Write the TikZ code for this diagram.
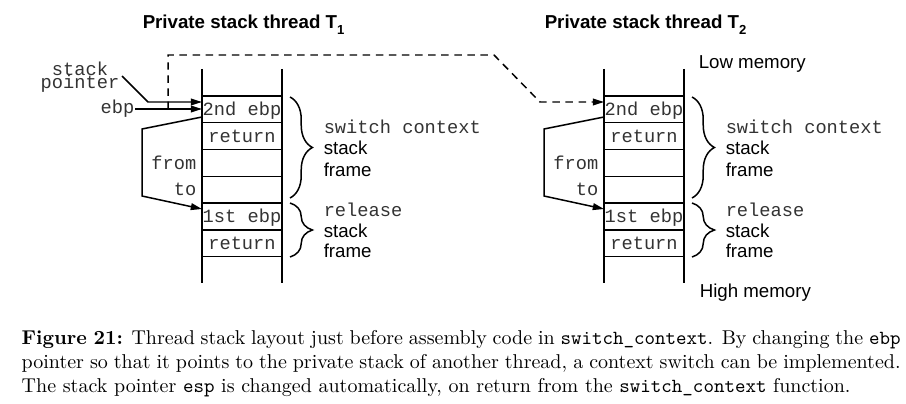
\documentclass[tikz,border=0pt]{standalone}
\usepackage{fontspec}
\newfontfamily\helv{Liberation Sans}
\newfontfamily\cour{Liberation Mono}
\usetikzlibrary{arrows.meta,decorations.pathreplacing}
\begin{document}
\begin{tikzpicture}[x=0.5348pt,y=-0.5348pt,line width=0.8pt,
  mono/.style={font=\cour\fontsize{10}{12}\selectfont,inner sep=0pt,text=black!80},
  sans/.style={font=\helv\fontsize{10}{12}\selectfont,inner sep=0pt},
  ttl/.style={font=\helv\bfseries\fontsize{10}{12}\selectfont,inner sep=0pt,anchor=base west},
  arr/.style={-{Triangle[length=6pt,width=3.6pt]}},
  brc/.style={decorate,decoration={brace,amplitude=12pt}},
  dsh/.style={dash pattern=on 4pt off 3pt}]
\useasboundingbox (0,0) rectangle (906,403);
% titles
\node[ttl] (t1) at (142,28.3) {Private stack thread T\raisebox{-3.5pt}{\fontsize{7}{8}\selectfont 1}};
\node[ttl] (t2) at (544,28.3) {Private stack thread T\raisebox{-3.5pt}{\fontsize{7}{8}\selectfont 2}};
\node[sans,anchor=base west] (low) at (698,69) {Low memory};
\node[sans,anchor=base west] (high) at (699,297) {High memory};
% stacks
\foreach \X/\T in {202/1,604/2}{
  \draw (\X,69) -- (\X,283);
  \draw (\X+80,69) -- (\X+80,283);
  \foreach \Y in {96,122.75,149.5,176.25,229.75,256.5}{
    \draw (\X,\Y) -- (\X+80,\Y);
  }
  \draw[line width=1.6pt] (\X,203) -- (\X+80,203);
  \node[mono,anchor=base] (s\T-ebp2) at (\X+40,115.5) {2nd ebp};
  \node[mono,anchor=base] (s\T-ret1) at (\X+40,142.25) {return};
  \node[mono,anchor=base east] (s\T-from) at (\X-5,169) {from};
  \node[mono,anchor=base east] (s\T-to) at (\X-5,195.5) {to};
  \node[mono,anchor=base] (s\T-ebp1) at (\X+40,222) {1st ebp};
  \node[mono,anchor=base] (s\T-ret2) at (\X+40,249.25) {return};
  \coordinate (s\T-in1) at (\X,102);
  \coordinate (s\T-in2) at (\X,109);
  \coordinate (s\T-out) at (\X,117);
  \coordinate (s\T-tgt) at (\X,209);
  \draw[arr] (s\T-out) -- (\X-60,129) -- (\X-60,196) -- (s\T-tgt);
  \draw[brc] (\X+88,97) -- (\X+88,198);
  \draw[brc] (\X+88,203) -- (\X+88,257);
  \node[mono,anchor=base west] (s\T-l1) at (\X+121,133) {switch context};
  \node[sans,anchor=base west] (s\T-l2) at (\X+121,154) {stack};
  \node[sans,anchor=base west] (s\T-l3) at (\X+121,176) {frame};
  \node[mono,anchor=base west] (s\T-l4) at (\X+121,216) {release};
  \node[sans,anchor=base west] (s\T-l5) at (\X+121,237) {stack};
  \node[sans,anchor=base west] (s\T-l6) at (\X+121,257) {frame};
}
% stack pointer and ebp
\node[mono,anchor=north,align=center,font=\cour\fontsize{10}{10}\selectfont] (sp) at (80,61) {stack\\[-2.9pt]pointer};
\draw[arr] (122,76) -- (148,102) -- (s1-in1);
\node[mono,anchor=base] (ebpL) at (117.5,113) {ebp};
\draw[arr] (ebpL.east |- s1-in2) -- (s1-in2);
\coordinate (d0) at (168,109);
\draw[arr,dsh] (d0) -- (168,55) -- (494,55) -- (540,102) -- (s2-in1);
% caption
\node[anchor=north west,inner sep=0pt,text width=470pt,align=justify,
  font=\fontsize{10.7}{12.7}\selectfont] (cap) at (21,327.5)
  {\strut\textbf{Figure 21:} Thread stack layout just before assembly code in \texttt{switch\_context}. By changing the \texttt{ebp}\linebreak{} pointer so that it points to the private stack of another thread, a context switch can be implemented.\linebreak{} The stack pointer \texttt{esp} is changed automatically, on return from the \texttt{switch\_context} function.};
\end{tikzpicture}
\end{document}
